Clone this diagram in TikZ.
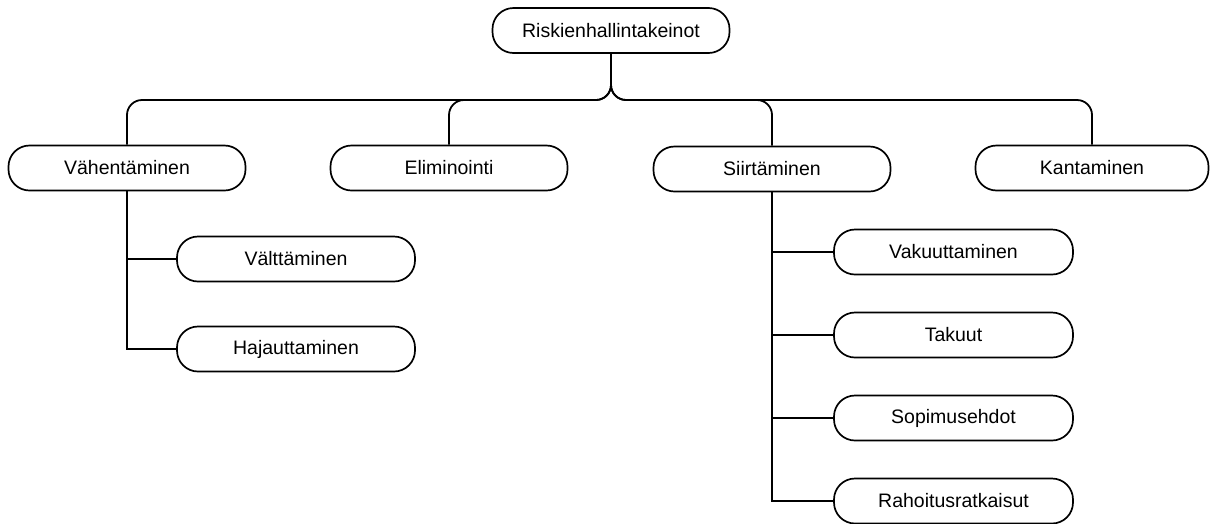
\documentclass[tikz,border=0pt]{standalone}
\usepackage{fontspec}
\setmainfont{Liberation Sans}
\begin{document}
\begin{tikzpicture}[x=1pt,y=-1pt,
  box/.style={draw=black,line width=1.7pt,rounded corners=21pt,minimum width=237pt,minimum height=45pt,inner sep=0pt,font=\fontsize{19.5}{23}\selectfont,fill=white},
  conn/.style={draw=black,line width=1.8pt}]
\useasboundingbox (0,0) rectangle (1212,523);
\node[box] (root) at (611,30.5) {Riskienhallintakeinot};
\node[box] (vah) at (127,168) {Vähentäminen};
\node[box] (eli) at (449,168) {Eliminointi};
\node[box] (sii) at (772,169) {Siirtäminen};
\node[box,minimum width=233pt] (kan) at (1092,168) {Kantaminen};
\node[box,minimum width=238pt] (val) at (296,259) {Välttäminen};
\node[box,minimum width=238pt] (haj) at (296,349) {Hajauttaminen};
\node[box,minimum width=239pt] (vak) at (953.5,252) {Vakuuttaminen};
\node[box,minimum width=239pt] (tak) at (953.5,335) {Takuut};
\node[box,minimum width=239pt] (sop) at (953.5,418) {Sopimusehdot};
\node[box,minimum width=239pt] (rah) at (953.5,501) {Rahoitusratkaisut};
\coordinate (h) at (0,100);
\draw[conn,rounded corners=15pt] (root.south) |- (vah.north |- h) -- (vah.north);
\draw[conn,rounded corners=15pt] (root.south) |- (eli.north |- h) -- (eli.north);
\draw[conn,rounded corners=15pt] (root.south) |- (sii.north |- h) -- (sii.north);
\draw[conn,rounded corners=15pt] (root.south) |- (kan.north |- h) -- (kan.north);
\draw[conn] (vah.south) |- (val.west);
\draw[conn] (vah.south) |- (haj.west);
\draw[conn] (sii.south) |- (vak.west);
\draw[conn] (sii.south) |- (tak.west);
\draw[conn] (sii.south) |- (sop.west);
\draw[conn] (sii.south) |- (rah.west);
\end{tikzpicture}
\end{document}
